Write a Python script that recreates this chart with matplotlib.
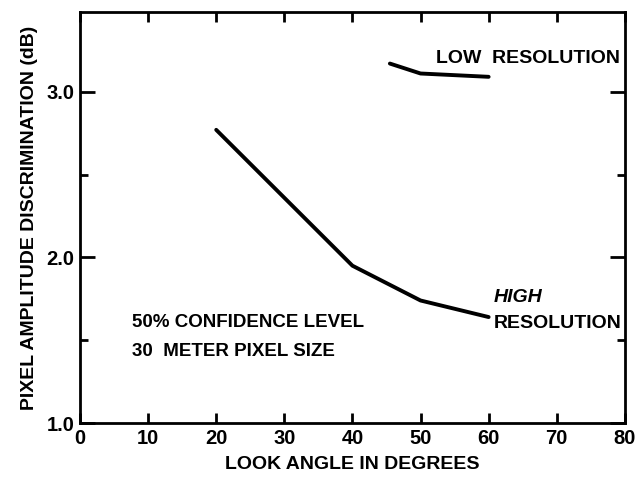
import matplotlib.pyplot as plt
from matplotlib.ticker import MultipleLocator

# values
high_angle = [20, 40, 50, 60]
high_disc = [2.77, 1.95, 1.74, 1.64]
low_angle = [45.5, 50, 60]
low_disc = [3.17, 3.11, 3.09]

x_ticks = [0, 10, 20, 30, 40, 50, 60, 70, 80]
y_ticks = [1.0, 2.0, 3.0]

plt.rcParams['font.family'] = ['Liberation Sans', 'DejaVu Sans']
plt.rcParams['font.weight'] = 'bold'
plt.rcParams['axes.labelweight'] = 'bold'

fig = plt.figure(figsize=(6.35, 4.88), dpi=100)
ax = fig.add_axes([0.126, 0.133, 0.858, 0.842])

ax.plot(high_angle, high_disc, color='black', lw=2.8, solid_capstyle='round')
ax.plot(low_angle, low_disc, color='black', lw=2.8, solid_capstyle='round')

ax.set_xlim(0, 80)
ax.set_ylim(1.0, 3.48)
ax.set_xticks(x_ticks)
ax.set_yticks(y_ticks)
ax.set_yticklabels(['1.0', '2.0', '3.0'])
ax.yaxis.set_minor_locator(MultipleLocator(0.5))
ax.tick_params(axis='both', which='both', direction='in', top=True, right=True,
               width=2, labelsize=14.5)
ax.tick_params(axis='y', which='major', length=11, pad=4)
ax.tick_params(axis='y', which='minor', length=6)
ax.tick_params(axis='x', which='major', length=7, pad=4)
for s in ax.spines.values():
    s.set_linewidth(2)

ax.set_xlabel('LOOK ANGLE IN DEGREES', fontsize=14, labelpad=6)
ax.set_ylabel('PIXEL AMPLITUDE DISCRIMINATION (dB)', fontsize=14, labelpad=6)

ax.text(52.3, 3.2, 'LOW  RESOLUTION', fontsize=14, va='center', ha='left')
ax.text(60.8, 1.76, 'HIGH', fontsize=14, va='center', ha='left', style='italic')
ax.text(60.8, 1.60, 'RESOLUTION', fontsize=14, va='center', ha='left')
ax.text(7.6, 1.61, '50% CONFIDENCE LEVEL', fontsize=13.5, va='center', ha='left')
ax.text(7.6, 1.43, '30  METER PIXEL SIZE', fontsize=13.5, va='center', ha='left')

fig.savefig('out.png', dpi=100)
